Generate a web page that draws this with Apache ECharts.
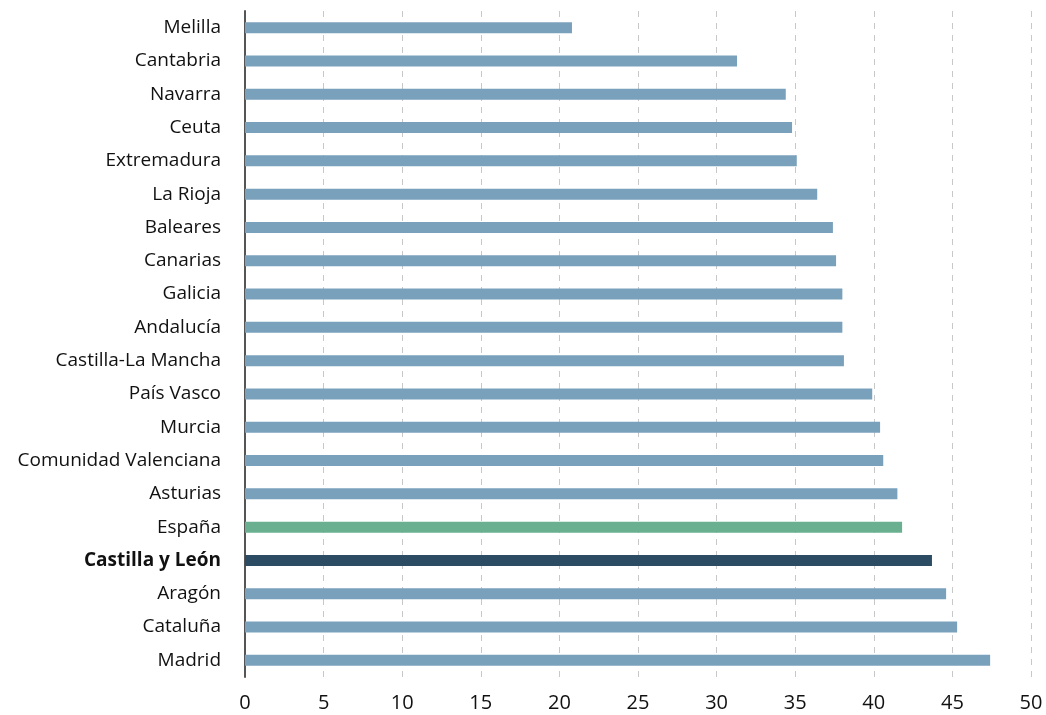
<!DOCTYPE html>
<html><head><meta charset="utf-8">
<script src="https://cdn.jsdelivr.net/npm/echarts@6/dist/echarts.min.js"></script>
<style>html,body{margin:0;padding:0;background:#fff}#c{width:1046px;height:715px}</style>
</head><body><div id="c"></div>
<script>
const categories = ["Madrid","Cataluña","Aragón","Castilla y León","España","Asturias","Comunidad Valenciana","Murcia","País Vasco","Castilla-La Mancha","Andalucía","Galicia","Canarias","Baleares","La Rioja","Extremadura","Ceuta","Navarra","Cantabria","Melilla"];
const values = [47.4,45.3,44.6,43.7,41.8,41.5,40.6,40.4,39.9,38.1,38.0,38.0,37.6,37.4,36.4,35.1,34.8,34.4,31.3,20.8];
const xTicks = [0,5,10,15,20,25,30,35,40,45,50];
const highlight = "Castilla y León";
const national = "España";

const chart = echarts.init(document.getElementById('c'), null, {renderer:'canvas'});
const font = '"Open Sans", "Noto Sans", sans-serif';
chart.setOption({
  animation:false,
  grid:{left:245,right:15,top:11,bottom:38,containLabel:false},
  xAxis:{type:'value',min:xTicks[0],max:xTicks[xTicks.length-1],interval:5,
    axisLine:{show:false},axisTick:{show:false},
    axisLabel:{color:'#111',fontSize:20,fontFamily:font,margin:16},
    splitLine:{show:true,lineStyle:{color:'#c8c8c8',type:[6,6],width:1}}},
  yAxis:{type:'category',data:categories,
    axisLine:{show:true,lineStyle:{color:'#555',width:2}},axisTick:{show:false},
    axisLabel:{color:'#111',fontSize:19,fontFamily:font,margin:24,
      formatter:v=> v===highlight?'{b|'+v+'}':v,
      rich:{b:{fontWeight:'bold',fontSize:19,fontFamily:font,color:'#111'}}},
    splitLine:{show:false}},
  series:[{type:'bar',barWidth:11,
    data:values.map((v,i)=>({value:v,itemStyle:{color: categories[i]===highlight?'#2c4c63':(categories[i]===national?'#6ab090':'#7aa1bb')}})),
  }]
});
</script></body></html>
